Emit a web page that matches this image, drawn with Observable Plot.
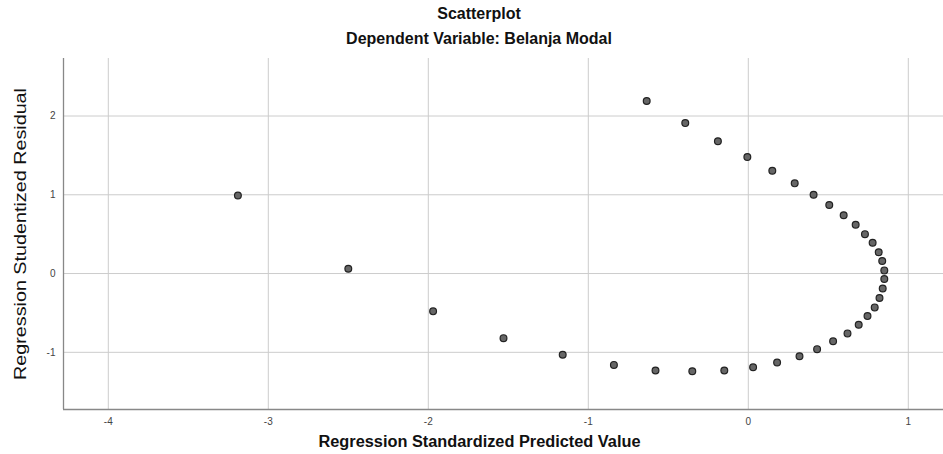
<!DOCTYPE html>
<html>
<head>
<meta charset="utf-8">
<script src="https://cdn.jsdelivr.net/npm/d3@7"></script>
<script src="https://cdn.jsdelivr.net/npm/@observablehq/plot@0.6"></script>
<style>
  html, body { margin: 0; padding: 0; background: #fff; }
  #wrap { width: 943px; font-family: "Liberation Sans", Arial, sans-serif; }
  .t1, .t2 { text-align: center; font-weight: bold; color: #111; font-size: 16px; line-height: 25px; width: 958px; }
  .t1 { padding-top: 1px; }
</style>
</head>
<body>
<div id="wrap">
  <div class="t1">Scatterplot</div>
  <div class="t2">Dependent Variable: Belanja Modal</div>
  <div id="chart"></div>
</div>
<script>
// Data
const predicted = [-3.19, -2.50, -1.97, -1.53, -1.16, -0.84, -0.58, -0.35, -0.15, 0.03, 0.18, 0.32, 0.43, 0.53, 0.62, 0.69, 0.745, 0.79, 0.82, 0.84, 0.85, 0.85, 0.837, 0.815, 0.777, 0.729, 0.671, 0.596, 0.506, 0.408, 0.29, 0.15, -0.006, -0.19, -0.394, -0.635];
const residual = [0.99, 0.06, -0.48, -0.82, -1.03, -1.16, -1.23, -1.24, -1.23, -1.19, -1.13, -1.05, -0.96, -0.86, -0.76, -0.65, -0.54, -0.43, -0.31, -0.19, -0.07, 0.04, 0.16, 0.27, 0.39, 0.50, 0.62, 0.74, 0.87, 1.00, 1.145, 1.305, 1.48, 1.68, 1.91, 2.19];
const xTicks = [-4, -3, -2, -1, 0, 1];
const yTicks = [-1, 0, 1, 2];
const xDomain = [-4.28, 1.22];
const yDomain = [-1.726, 2.73];
const xTitle = "Regression Standardized Predicted Value";
const yTitle = "Regression Studentized Residual";

const points = predicted.map((x, i) => ({x, y: residual[i]}));
const fmt = d => String(d);

const chart = Plot.plot({
  width: 943,
  height: 404,
  marginTop: 7,
  marginBottom: 46,
  marginLeft: 63,
  marginRight: 0,
  style: {fontFamily: "'Liberation Sans', Arial, sans-serif", background: "#fff"},
  x: {domain: xDomain, ticks: xTicks},
  y: {domain: yDomain, ticks: yTicks},
  marks: [
    Plot.gridX(xTicks, {stroke: "#cccccc", strokeOpacity: 1}),
    Plot.gridY(yTicks, {stroke: "#cccccc", strokeOpacity: 1}),
    Plot.ruleX([xDomain[0]], {stroke: "#888", strokeWidth: 1.3}),
    Plot.ruleY([yDomain[0]], {stroke: "#888", strokeWidth: 1.3}),
    Plot.axisX(xTicks, {tickSize: 0, tickPadding: 8, fontSize: 10, fill: "#444", label: null, tickFormat: fmt}),
    Plot.axisY(yTicks, {tickSize: 0, tickPadding: 8, fontSize: 10, fill: "#444", label: null, tickFormat: fmt}),
    Plot.dot(points, {x: "x", y: "y", r: 3.4, fill: "#666", stroke: "#222", strokeWidth: 1.2}),
    Plot.text([xTitle], {frameAnchor: "bottom", dx: -24, dy: 37, fontSize: 16, fontWeight: "bold", fill: "#111", className: "xtitle"}),
    Plot.text([yTitle], {frameAnchor: "left", textAnchor: "middle", rotate: -90, dx: -43, fontSize: 16, fill: "#111", className: "ytitle"})
  ]
});
document.getElementById("chart").appendChild(chart);
// stretch axis titles to the lengths seen in the reference
d3.select(chart).selectAll(".ytitle text").attr("textLength", 292).attr("lengthAdjust", "spacingAndGlyphs");
d3.select(chart).selectAll(".xtitle text").attr("textLength", 322).attr("lengthAdjust", "spacingAndGlyphs");
</script>
</body>
</html>
